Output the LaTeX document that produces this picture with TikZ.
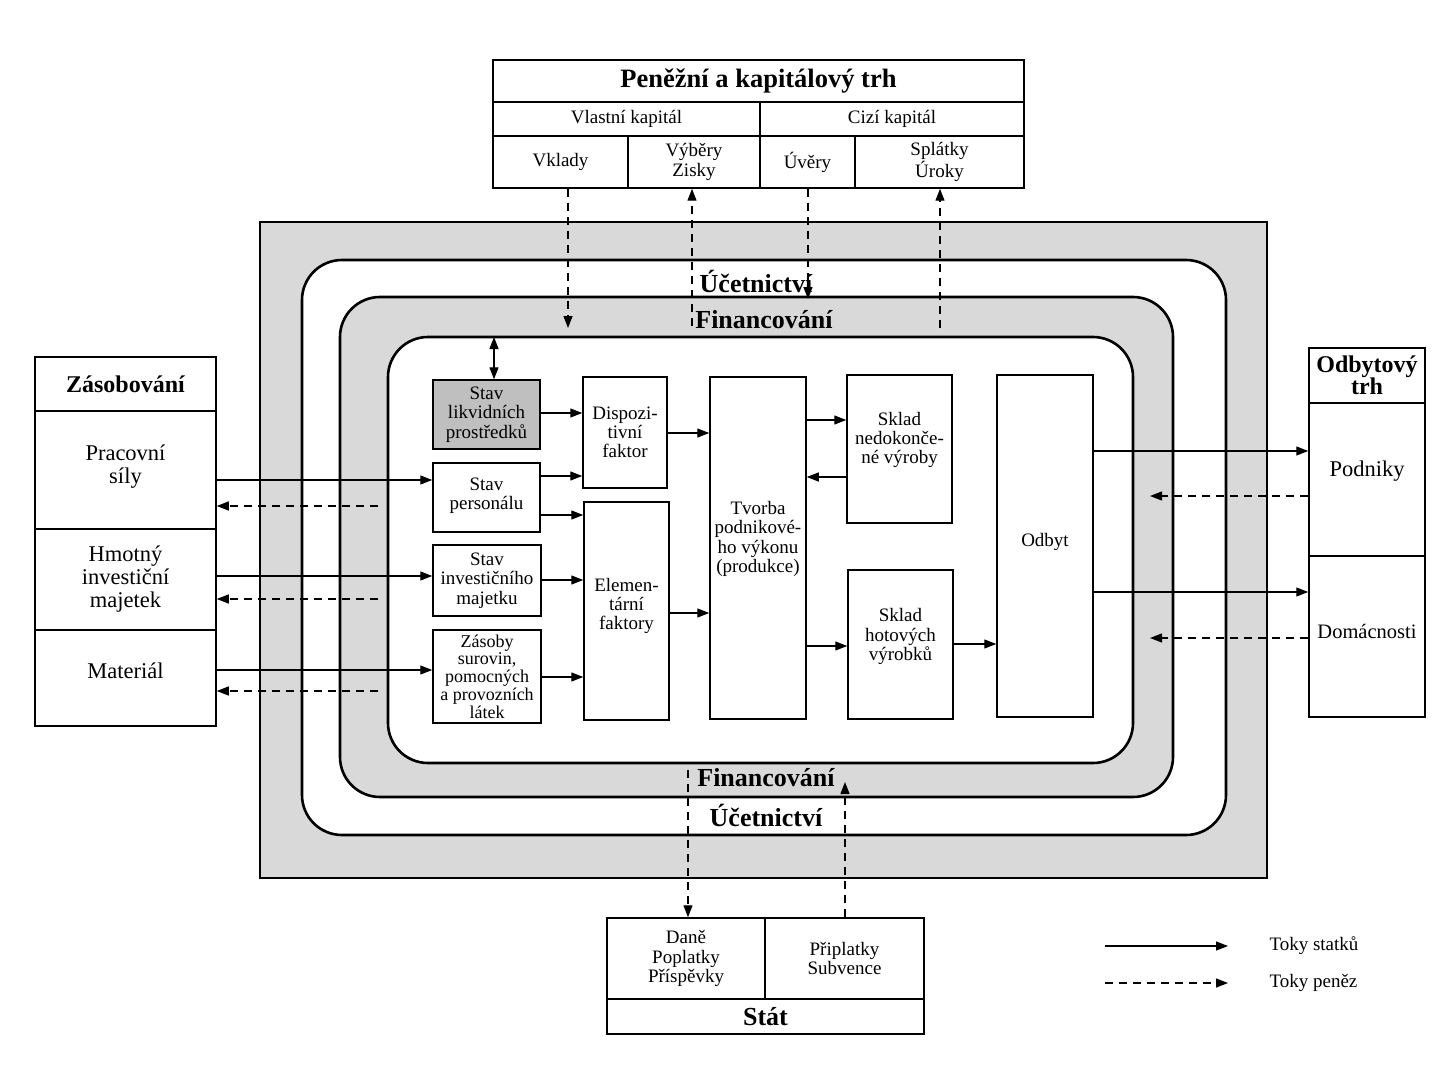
\documentclass[tikz,border=0pt]{standalone}
\usepackage{fontspec}
\setmainfont{Liberation Serif}
\usetikzlibrary{arrows.meta}
\newcommand\fsS{\fontsize{19}{19.3}\selectfont}
\newcommand\fsZ{\fontsize{18}{17.8}\selectfont}
\newcommand\fsL{\fontsize{22.5}{23}\selectfont}
\newcommand\fsB{\fontsize{24}{22}\selectfont\bfseries}
\newcommand\fsR{\fontsize{26}{26}\selectfont\bfseries}
\newcommand\fsT{\fontsize{26.5}{26}\selectfont\bfseries}
\begin{document}
\begin{tikzpicture}[x=1pt,y=-1pt,
  cell/.style={draw, line width=1.5pt, inner sep=1pt, align=center, font=\fsS},
  ring/.style={draw, line width=2.6pt, rounded corners=40pt},
  flow/.style={line width=1.3pt, -{Triangle[length=12pt,width=9pt]}},
  money/.style={line width=1.3pt, dash pattern=on 8pt off 6pt, -{Triangle[length=12pt,width=9pt]}},
  ringlbl/.style={font=\fsR, inner sep=0pt}]
\useasboundingbox (0,0) rectangle (1435,1078);
\fill[white] (0,0) rectangle (1435,1078);

% rings
\draw[line width=2.8pt, fill=black!15] (260,222) rectangle (1267,878);
\draw[ring, fill=white] (302,260) rectangle (1226,835);
\draw[ring, fill=black!15] (340,297) rectangle (1173,797);
\draw[ring, fill=white] (388,337) rectangle (1133,763);

% top box
\node[cell, font=\fsT, minimum width=531pt, minimum height=42pt] (pkt) at (758.5,81) {Peněžní a kapitálový trh};
\node[cell, minimum width=267pt, minimum height=34pt] (vlastni) at (626.5,119) {Vlastní kapitál};
\node[cell, minimum width=264pt, minimum height=34pt] (cizi) at (892,119) {Cizí kapitál};
\node[cell, minimum width=135pt, minimum height=52pt] (vklady) at (560.5,162) {Vklady};
\node[cell, minimum width=132pt, minimum height=52pt] (vybery) at (694,162) {Výběry\\Zisky};
\node[cell, minimum width=95pt, minimum height=52pt] (uvery) at (807.5,162) {Úvěry};
\node[cell, minimum width=169pt, minimum height=52pt] (splatky) at (939.5,162) {Splátky\\Úroky};

% left box
\node[cell, font=\fsB, minimum width=181pt, minimum height=54pt] (zasob) at (125.5,384) {Zásobování};
\node[cell, font=\fsL, minimum width=181pt, minimum height=118pt, text depth=12pt] (prac) at (125.5,470) {Pracovní\\síly};
\node[cell, font=\fsL, minimum width=181pt, minimum height=101pt] (hmot) at (125.5,579.5) {Hmotný\\investiční\\majetek};
\node[cell, font=\fsL, minimum width=181pt, minimum height=96pt, text depth=14pt] (mat) at (125.5,678) {Materiál};

% right box
\node[cell, font=\fsB, minimum width=116pt, minimum height=55pt] (odbtrh) at (1367,375.5) {Odbytový\\trh};
\node[cell, font=\fsL, minimum width=116pt, minimum height=153pt, text depth=22pt] (podniky) at (1367,479.5) {Podniky};
\node[cell, font=\fontsize{20.5}{20}\selectfont, minimum width=116pt, minimum height=161pt, text depth=10pt] (domac) at (1367,636.5) {Domácnosti};

% bottom box
\node[cell, minimum width=158pt, minimum height=81pt] (dane) at (686,958.5) {Daně\\Poplatky\\Příspěvky};
\node[cell, minimum width=159pt, minimum height=81pt] (priplatky) at (844.5,958.5) {Připlatky\\Subvence};
\node[cell, font=\fsR, minimum width=317pt, minimum height=35pt] (stat) at (765.5,1016.5) {Stát};

% inner boxes
\node[cell, fill=black!25, minimum width=107pt, minimum height=69pt] (likv) at (486.5,414.5) {Stav\\likvidních\\prostředků};
\node[cell, minimum width=107pt, minimum height=69pt, text depth=8pt] (pers) at (486.5,497.5) {Stav\\personálu};
\node[cell, minimum width=108pt, minimum height=71pt] (inv) at (487,580.5) {Stav\\investičního\\majetku};
\node[cell, font=\fsZ, minimum width=108pt, minimum height=93pt] (zas) at (487,676.5) {Zásoby\\surovin,\\pomocných\\a provozních\\látek};
\node[cell, minimum width=84pt, minimum height=111pt] (disp) at (625,432.5) {Dispozi-\\tivní\\faktor};
\node[cell, minimum width=85pt, minimum height=218pt, text depth=14pt] (elem) at (626.5,611) {Elemen-\\tární\\faktory};
\node[cell, minimum width=96pt, minimum height=342pt, text depth=22pt] (tvorba) at (758,548) {Tvorba\\podnikové-\\ho výkonu\\(produkce)};
\node[cell, minimum width=105pt, minimum height=148pt, text depth=22pt] (sklnedok) at (899.5,449) {Sklad\\nedokonče-\\né výroby};
\node[cell, minimum width=105pt, minimum height=149pt, text depth=20pt] (sklhot) at (900.5,644.5) {Sklad\\hotových\\výrobků};
\node[cell, minimum width=96pt, minimum height=342pt, text depth=12pt] (odbyt) at (1045,546) {Odbyt};

% ring labels
\node[ringlbl] (ucetT) at (756,281) {Účetnictví};
\node[ringlbl] (finT) at (764,320) {Financování};
\node[ringlbl] (finB) at (766,778) {Financování};
\node[ringlbl] (ucetB) at (766,815) {Účetnictví};

% coordinates for free ends
\coordinate (vkE) at (568,328);
\coordinate (vyS) at (692,326);
\coordinate (uvE) at (808,299);
\coordinate (spS) at (940,328);
\coordinate (dnS) at (688,770);
\coordinate (prE) at (845,782);
\coordinate (dbl) at (494,337);
\coordinate (dl1) at (378,506);
\coordinate (dl2) at (378,599);
\coordinate (dl3) at (378,691);
\coordinate (dr1) at (1150,496);
\coordinate (dr2) at (1150,638);

% top money flows
\draw[money] (vkE |- vklady.south) -- (vkE);
\draw[money] (vyS) -- (vyS |- vybery.south);
\draw[money] (uvE |- uvery.south) -- (uvE);
\draw[money] (spS) -- (spS |- splatky.south);
% bottom money flows
\draw[money] (dnS) -- (dnS |- dane.north);
\draw[money] (prE |- priplatky.north) -- (prE);

% double arrow
\draw[line width=1.3pt, {Triangle[length=12pt,width=9pt]}-{Triangle[length=12pt,width=9pt]}] (dbl) -- (dbl |- likv.north);

% left flows
\draw[flow] (prac.east |- 0,480) -- (pers.west |- 0,480);
\draw[flow] (hmot.east |- 0,576) -- (inv.west |- 0,576);
\draw[flow] (mat.east |- 0,670) -- (zas.west |- 0,670);
\draw[money] (dl1) -- (prac.east |- dl1);
\draw[money] (dl2) -- (hmot.east |- dl2);
\draw[money] (dl3) -- (mat.east |- dl3);

% inner flows
\draw[flow] (likv.east |- 0,413) -- (disp.west |- 0,413);
\draw[flow] (pers.east |- 0,476) -- (disp.west |- 0,476);
\draw[flow] (pers.east |- 0,515) -- (elem.west |- 0,515);
\draw[flow] (inv.east |- 0,580) -- (elem.west |- 0,580);
\draw[flow] (zas.east |- 0,677) -- (elem.west |- 0,677);
\draw[flow] (disp.east |- 0,433) -- (tvorba.west |- 0,433);
\draw[flow] (elem.east |- 0,613) -- (tvorba.west |- 0,613);
\draw[flow] (tvorba.east |- 0,420) -- (sklnedok.west |- 0,420);
\draw[flow] (sklnedok.west |- 0,477) -- (tvorba.east |- 0,477);
\draw[flow] (tvorba.east |- 0,646) -- (sklhot.west |- 0,646);
\draw[flow] (sklhot.east |- 0,644) -- (odbyt.west |- 0,644);

% right flows
\draw[flow] (odbyt.east |- 0,451) -- (podniky.west |- 0,451);
\draw[flow] (odbyt.east |- 0,592) -- (domac.west |- 0,592);
\draw[money] (podniky.west |- dr1) -- (dr1);
\draw[money] (domac.west |- dr2) -- (dr2);

% legend
\coordinate (l1a) at (1105,946);
\coordinate (l1b) at (1228,946);
\coordinate (l2a) at (1105,983);
\coordinate (l2b) at (1228,983);
\draw[flow] (l1a) -- (l1b);
\draw[money] (l2a) -- (l2b);
\node[anchor=west, font=\fsS] (leg1) at (1266,946) {Toky statků};
\node[anchor=west, font=\fsS] (leg2) at (1266,983) {Toky peněz};
\end{tikzpicture}
\end{document}
